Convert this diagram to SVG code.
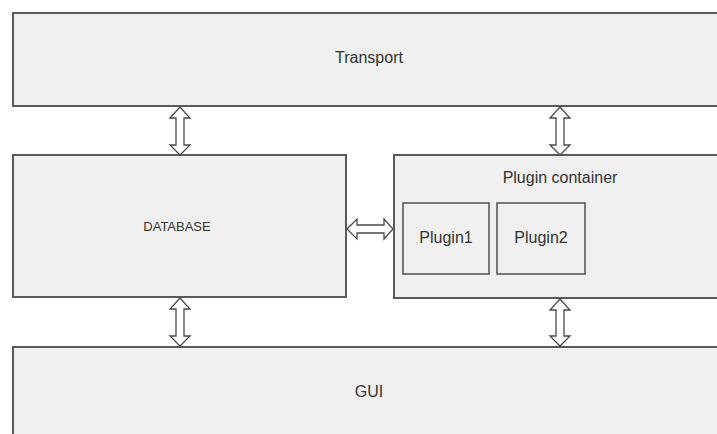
<svg xmlns="http://www.w3.org/2000/svg" width="717" height="434" viewBox="0 0 717 434">
<style>
.box{fill:#f0f0f0;stroke:#5a5a5a;stroke-width:2}
.inner{fill:#f0f0f0;stroke:#5a5a5a;stroke-width:1.6}
.arr{fill:#ffffff;stroke:#4a4a4a;stroke-width:1.3;stroke-linejoin:miter}
.t{font-family:"Liberation Sans",Arial,sans-serif;fill:#333;text-anchor:middle;font-size:16px}
.s{font-size:13px}
</style>
<rect width="717" height="434" fill="#ffffff"/>
<g id="transport">
<rect class="box" x="13" y="13" width="720" height="93"/>
<text class="t" x="369" y="63">Transport</text>
</g>
<g id="database">
<rect class="box" x="13" y="155" width="333" height="142"/>
<text class="t s" x="177" y="231">DATABASE</text>
</g>
<g id="plugin-container">
<rect class="box" x="394" y="155" width="340" height="143"/>
<text class="t" x="560" y="183">Plugin container</text>
</g>
<g id="plugin1">
<rect class="inner" x="403" y="203" width="86" height="71"/>
<text class="t" x="446" y="243">Plugin1</text>
</g>
<g id="plugin2">
<rect class="inner" x="497" y="203" width="88" height="71"/>
<text class="t" x="541" y="243">Plugin2</text>
</g>
<g id="gui">
<rect class="box" x="13" y="347" width="720" height="100"/>
<text class="t" x="369" y="397">GUI</text>
</g>
<g id="connectors">
<polygon class="arr" points="180,107 190,118 184,118 184,145 190,145 180,155 170,145 176,145 176,118 170,118"/>
<polygon class="arr" points="560,107 570,118 564,118 564,145 570,145 560,155 550,145 556,145 556,118 550,118"/>
<polygon class="arr" points="180,298 190,309 184,309 184,336 190,336 180,346 170,336 176,336 176,309 170,309"/>
<polygon class="arr" points="560,299 570,310 564,310 564,336 570,336 560,346 550,336 556,336 556,310 550,310"/>
<polygon class="arr" points="347,229 357,219 357,225 384,225 384,219 393,229 384,239 384,233 357,233 357,239"/>
</g>
</svg>
